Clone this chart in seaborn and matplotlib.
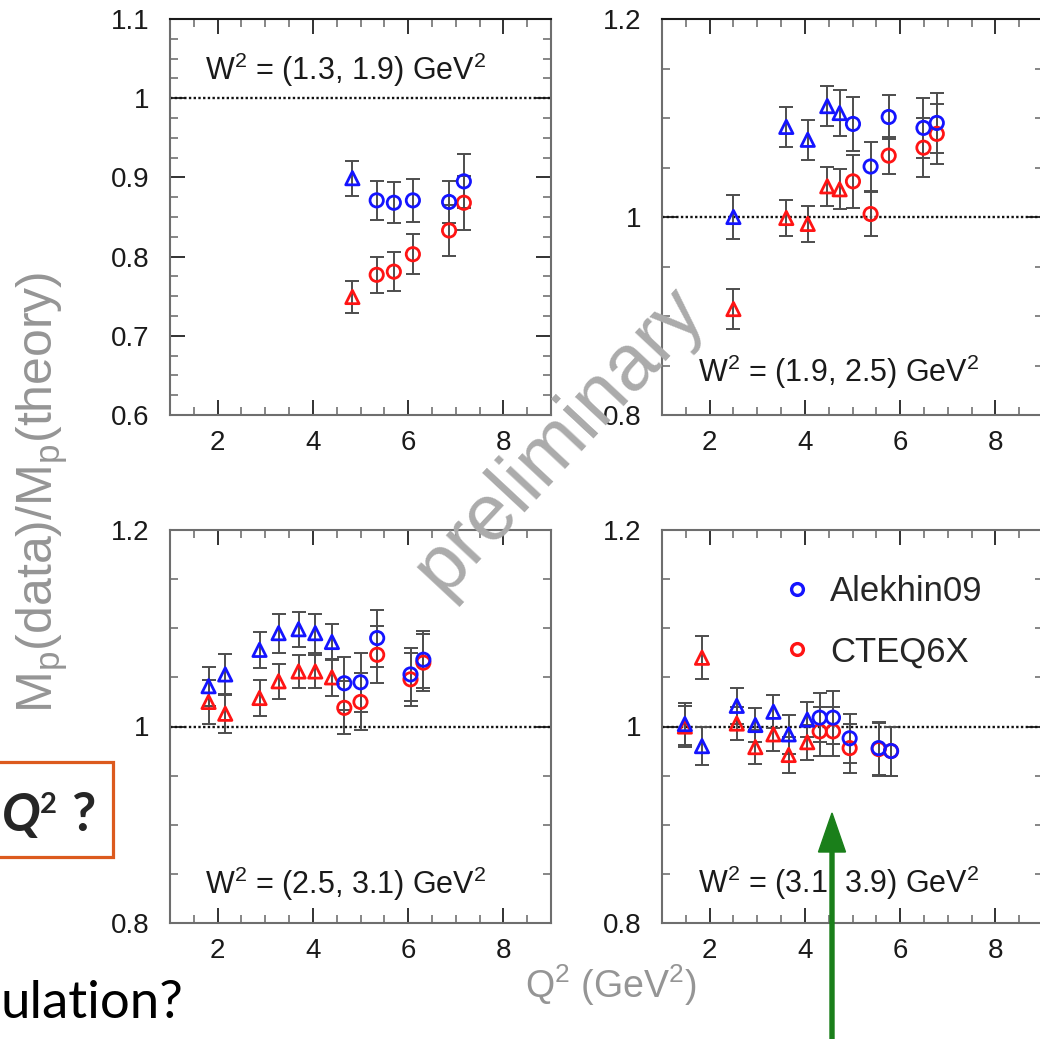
import numpy as np
import pandas as pd
import matplotlib
matplotlib.use("Agg")
import matplotlib.pyplot as plt
from matplotlib.lines import Line2D
from matplotlib.patches import Rectangle, FancyArrow
from matplotlib.ticker import MultipleLocator, FuncFormatter, FixedLocator
import seaborn as sns

# ---- data: M_p(data)/M_p(theory) vs Q^2 in four W^2 bins ----
w2_bins = ["(1.3, 1.9)", "(1.9, 2.5)", "(2.5, 3.1)", "(3.1, 3.9)"]

q2_bin1 = [4.83, 5.34, 5.70, 6.10, 6.86, 7.17]
kind_bin1 = ["tri", "circ", "circ", "circ", "circ", "circ"]
alekhin_bin1 = [0.899, 0.871, 0.868, 0.871, 0.869, 0.895]
alekhin_err_bin1 = [0.022, 0.025, 0.026, 0.027, 0.026, 0.034]
cteq_bin1 = [0.749, 0.777, 0.781, 0.803, 0.833, 0.868]
cteq_err_bin1 = [0.020, 0.023, 0.025, 0.025, 0.032, 0.034]

q2_bin2 = [2.50, 3.61, 4.06, 4.47, 4.73, 5.01, 5.38, 5.76, 6.49, 6.77]
kind_bin2 = ["tri"] * 5 + ["circ"] * 5
alekhin_bin2 = [1.000, 1.091, 1.078, 1.112, 1.105, 1.094, 1.051, 1.101, 1.090, 1.095]
alekhin_err_bin2 = [0.022, 0.020, 0.020, 0.020, 0.023, 0.027, 0.025, 0.022, 0.030, 0.030]
cteq_bin2 = [0.907, 0.999, 0.993, 1.031, 1.028, 1.036, 1.003, 1.062, 1.070, 1.084]
cteq_err_bin2 = [0.020, 0.018, 0.018, 0.020, 0.020, 0.027, 0.022, 0.019, 0.030, 0.030]

q2_bin3 = [1.81, 2.16, 2.88, 3.28, 3.70, 4.05, 4.40, 4.66, 5.00, 5.35, 6.05, 6.32]
kind_bin3 = ["tri"] * 7 + ["circ"] * 5
alekhin_bin3 = [1.041, 1.053, 1.078, 1.095, 1.099, 1.095, 1.086, 1.044, 1.045, 1.090, 1.053, 1.068]
alekhin_err_bin3 = [0.020, 0.021, 0.018, 0.020, 0.018, 0.020, 0.018, 0.027, 0.030, 0.029, 0.027, 0.029]
cteq_bin3 = [1.025, 1.013, 1.029, 1.046, 1.056, 1.056, 1.050, 1.019, 1.025, 1.073, 1.048, 1.065]
cteq_err_bin3 = [0.022, 0.020, 0.018, 0.018, 0.017, 0.017, 0.019, 0.027, 0.029, 0.029, 0.027, 0.029]

q2_bin4 = [1.48, 1.84, 2.57, 2.96, 3.34, 3.66, 4.05, 4.31, 4.59, 4.94, 5.55, 5.81]
kind_bin4 = ["tri"] * 7 + ["circ"] * 5
alekhin_bin4 = [1.0025, 0.980, 1.021, 1.0015, 1.015, 0.992, 1.007, 1.009, 1.009, 0.988, 0.978, 0.975]
alekhin_err_bin4 = [0.021, 0.019, 0.018, 0.017, 0.017, 0.020, 0.018, 0.025, 0.027, 0.025, 0.027, 0.025]
cteq_bin4 = [1.000, 1.070, 1.003, 0.979, 0.992, 0.971, 0.984, 0.995, 0.995, 0.978, 0.977, 0.975]
cteq_err_bin4 = [0.021, 0.022, 0.017, 0.017, 0.017, 0.018, 0.018, 0.025, 0.025, 0.025, 0.027, 0.025]

models = ["CTEQ6X", "Alekhin09"]
model_colors = {"Alekhin09": "#1414ff", "CTEQ6X": "#ff1414"}
kind_markers = {"tri": "^", "circ": "o"}

bins = [
    (q2_bin1, kind_bin1, alekhin_bin1, alekhin_err_bin1, cteq_bin1, cteq_err_bin1),
    (q2_bin2, kind_bin2, alekhin_bin2, alekhin_err_bin2, cteq_bin2, cteq_err_bin2),
    (q2_bin3, kind_bin3, alekhin_bin3, alekhin_err_bin3, cteq_bin3, cteq_err_bin3),
    (q2_bin4, kind_bin4, alekhin_bin4, alekhin_err_bin4, cteq_bin4, cteq_err_bin4),
]

# ---- style ----
sns.set_theme(style="ticks")
plt.rcParams["font.family"] = ["Liberation Sans", "DejaVu Sans"]
plt.rcParams["mathtext.fontset"] = "custom"
plt.rcParams["mathtext.rm"] = "Liberation Sans"
plt.rcParams["mathtext.it"] = "Liberation Sans:italic"
plt.rcParams["mathtext.bf"] = "Liberation Sans:bold"
plt.rcParams["mathtext.default"] = "regular"

W, H = 1040, 1039
fig = plt.figure(figsize=(W / 100, H / 100), dpi=100)
fig.patch.set_facecolor("white")


def px(x, y):
    return x / W, 1 - y / H


def rect(x0, y0, x1, y1):
    return [x0 / W, 1 - y1 / H, (x1 - x0) / W, (y1 - y0) / H]


panel_boxes = [(170, 19, 551, 415), (662, 19, 1043, 415),
               (170, 530, 551, 923), (662, 530, 1043, 923)]
panel_ylims = [(0.6, 1.1), (0.8, 1.2), (0.8, 1.2), (0.8, 1.2)]
label_pos = [(0.092, 0.871), (0.095, 0.109), (0.092, 0.099), (0.095, 0.101)]

axes = []
for i, box in enumerate(panel_boxes):
    ax = fig.add_axes(rect(*box))
    axes.append(ax)
    q2, kind, alek, alek_err, cteq, cteq_err = bins[i]
    df = pd.DataFrame({
        "q2": list(q2) * 2,
        "ratio": list(cteq) + list(alek),
        "err": list(cteq_err) + list(alek_err),
        "model": ["CTEQ6X"] * len(q2) + ["Alekhin09"] * len(q2),
        "kind": list(kind) * 2,
    })

    ax.axhline(1.0, color="#111111", lw=1.7, ls=(0, (1, 1.0)), zorder=1)

    sns.scatterplot(data=df, x="q2", y="ratio", hue="model", style="kind",
                    palette=model_colors, markers=kind_markers, s=92,
                    linewidth=2.0, ax=ax, legend=False, zorder=4)
    coll = ax.collections[-1]
    fc = coll.get_facecolors()
    coll.set_edgecolors(fc)
    coll.set_facecolors("none")

    for m in models:
        sub = df[df["model"] == m]
        ax.errorbar(sub["q2"], sub["ratio"], yerr=sub["err"], fmt="none",
                    ecolor="#4d4d4d", elinewidth=1.4, capsize=4.8,
                    capthick=1.4, zorder=2)

    ax.set_xlim(1, 9)
    ax.set_ylim(*panel_ylims[i])
    ax.set_xlabel("")
    ax.set_ylabel("")
    ax.xaxis.set_major_locator(FixedLocator([2, 4, 6, 8]))
    ax.xaxis.set_minor_locator(MultipleLocator(0.5))
    if i == 0:
        ax.yaxis.set_major_locator(MultipleLocator(0.1))
        ax.yaxis.set_minor_locator(MultipleLocator(0.025))
    else:
        ax.yaxis.set_major_locator(FixedLocator([0.8, 1.0, 1.2]))
        ax.yaxis.set_minor_locator(MultipleLocator(0.05))
    ax.yaxis.set_major_formatter(FuncFormatter(lambda v, p: f"{v:g}"))
    ax.tick_params(which="both", direction="in", top=True, right=True,
                   labelsize=20, labelcolor="#1a1a1a")
    ax.tick_params(which="major", length=11, width=1.3, color="#222222")
    ax.tick_params(which="minor", length=6, width=1.1, color="#666666")
    ax.tick_params(axis="y", which="major", pad=15)
    ax.tick_params(axis="x", which="major", pad=11)
    for side, sp in ax.spines.items():
        sp.set_color("#6e6e6e")
        sp.set_linewidth(1.5)
    if i < 2:
        ax.spines["top"].set_color("#1a1a1a")

    lx, ly = label_pos[i]
    ax.text(lx, ly, "W$^2$ = " + w2_bins[i] + " GeV$^2$", transform=ax.transAxes,
            ha="left", va="center", fontsize=22, color="#1a1a1a", zorder=6)

# legend in the last panel
handles = [Line2D([], [], ls="", marker="o", ms=8.5, mfc="none", mew=2.4,
                  mec=model_colors["Alekhin09"]),
           Line2D([], [], ls="", marker="o", ms=8.5, mfc="none", mew=2.4,
                  mec=model_colors["CTEQ6X"])]
axes[3].legend(handles, ["Alekhin09", "CTEQ6X"], loc="upper left",
               bbox_to_anchor=(0.327, 0.885), frameon=False, fontsize=25,
               handlelength=0.6, handletextpad=0.65, labelspacing=0.78,
               borderpad=0, borderaxespad=0)

# shared axis titles
fig.text(*px(42, 492), "M$_p$(data)/M$_p$(theory)", rotation=90, ha="center",
         va="center", fontsize=36, color="#959595")
fig.text(*px(611, 985), "Q$^2$ (GeV$^2$)", ha="center", va="center",
         fontsize=27, color="#959595")

# watermark
fig.text(*px(560, 440), "preliminary", rotation=47, ha="center", va="center",
         rotation_mode="anchor", fontsize=57, color="#ababab", zorder=10)

# slide annotations
fig.patches.append(Rectangle(px(-6, 857), 119 / W, 95 / H, transform=fig.transFigure,
                             fill=True, facecolor="white", edgecolor="#dc5a1e",
                             lw=2.3, zorder=5))
fig.text(*px(2, 831), "Q", ha="left", va="baseline", fontsize=37,
         fontweight="bold", style="italic", family="Lato", zorder=6)
fig.text(*px(40, 813), "2", ha="left", va="baseline", fontsize=21,
         fontweight="bold", family="Lato", zorder=6)
fig.text(*px(71, 831), "?", ha="left", va="baseline", fontsize=38,
         fontweight="bold", family="Lato", zorder=6)
fig.text(*px(0, 1018), "ulation?", ha="left", va="baseline", fontsize=38,
         family="Lato", color="black", zorder=6)

fig.patches.append(FancyArrow(832 / W, 1 - 1045 / H, 0, (1045 - 813) / H,
                              width=4 / W, head_width=27 / W, head_length=39 / H,
                              length_includes_head=True, transform=fig.transFigure,
                              color="#1a7f1a", zorder=11))

fig.savefig("out.png", dpi=100)
